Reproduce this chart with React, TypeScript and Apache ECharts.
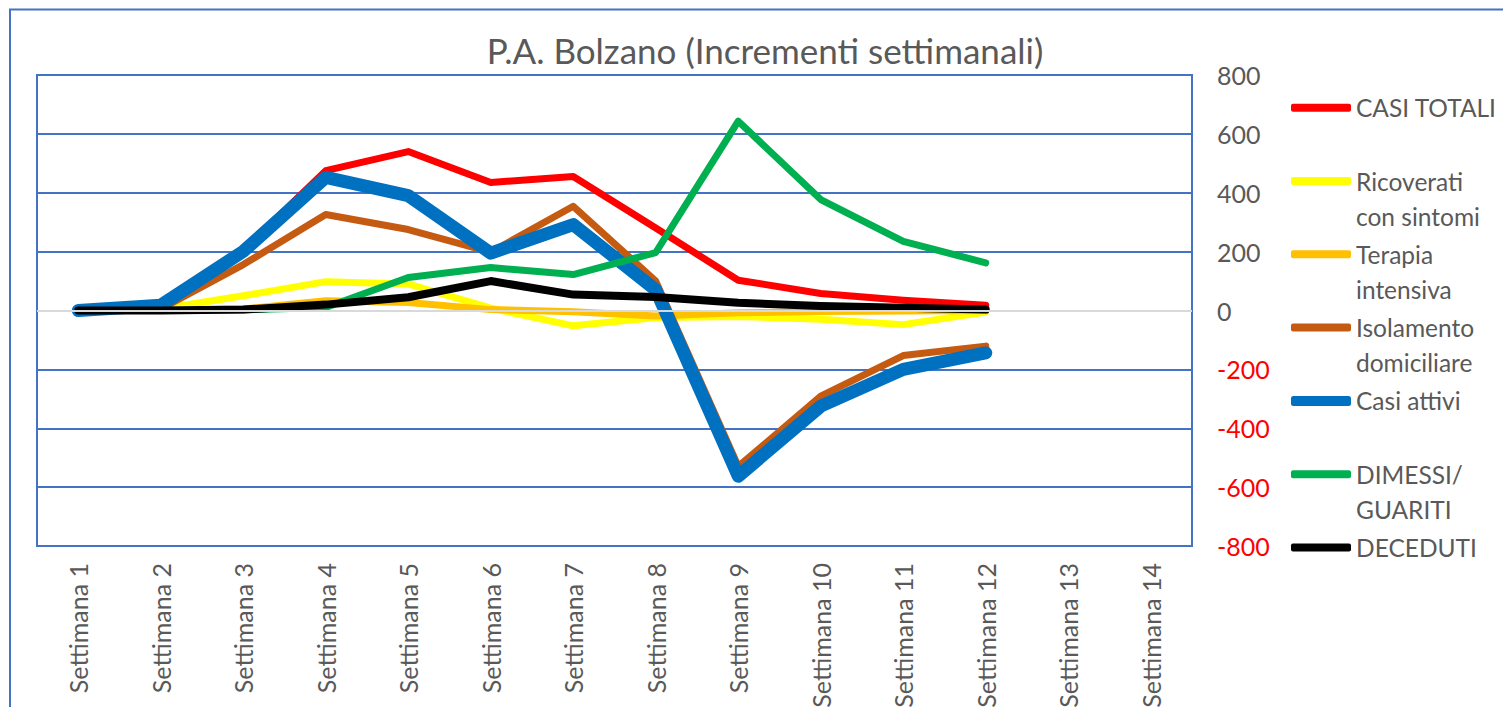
import React, { useEffect, useRef } from "react";
import * as echarts from "echarts";

const weeks = [
  "Settimana 1", "Settimana 2", "Settimana 3", "Settimana 4", "Settimana 5",
  "Settimana 6", "Settimana 7", "Settimana 8", "Settimana 9", "Settimana 10",
  "Settimana 11", "Settimana 12", "Settimana 13", "Settimana 14",
];
const casiTotali = [0, 15, 205, 475, 540, 435, 455, 280, 103, 58, 35, 18];
const ricoverati = [0, 5, 50, 98, 90, 8, -52, -24, -20, -30, -48, -5];
const terapiaIntensiva = [0, 0, 5, 33, 27, 3, -4, -19, -8, -3, -2, 0];
const isolamento = [0, 5, 156, 326, 275, 198, 354, 100, -530, -291, -153, -121];
const casiAttivi = [0, 18, 201, 452, 390, 195, 292, 70, -563, -325, -200, -144];
const dimessi = [0, 0, 2, 10, 112, 146, 122, 197, 643, 377, 235, 162];
const deceduti = [0, 0, 3, 20, 45, 100, 54, 46, 26, 15, 9, 3];

const seriesNames = [
  "CASI TOTALI",
  "Ricoverati con sintomi",
  "Terapia intensiva",
  "Isolamento domiciliare",
  "Casi attivi",
  "DIMESSI/ GUARITI",
  "DECEDUTI",
];
const legendLines = [
  ["CASI TOTALI"],
  ["Ricoverati", "con sintomi"],
  ["Terapia", "intensiva"],
  ["Isolamento", "domiciliare"],
  ["Casi attivi"],
  ["DIMESSI/", "GUARITI"],
  ["DECEDUTI"],
];
const seriesData = [casiTotali, ricoverati, terapiaIntensiva, isolamento, casiAttivi, dimessi, deceduti];
const colors = ["#FF0000", "#FFFF00", "#FFC000", "#C55A11", "#0070C0", "#00B050", "#000000"];
const widths = [7, 7, 7, 7, 13, 7, 8];
const yTicks = { min: -800, max: 800, interval: 200 };

const FONT = "Lato, 'Open Sans', sans-serif";
const TEXT = "#595959";
const BLUE = "#4472C4";

export default function App() {
  const ref = useRef<HTMLDivElement>(null);
  useEffect(() => {
    document.body.style.margin = "0";
    const chart = echarts.init(ref.current!, null, { renderer: "svg" });
    const LH = 35;
    const legends = seriesNames.map((name, i) => {
      const cy = 107.7 + 73.3 * i;
      const lines = legendLines[i];
      const twoLine = lines.length > 1;
      const ih = i === 4 ? 10 : 8;
      const label = twoLine ? "\n" + lines.join("\n") : lines[0];
      return {
        show: true,
        orient: "vertical",
        left: 1291,
        top: twoLine ? cy - 1.5 * LH : cy - LH / 2,
        padding: 0,
        itemWidth: 60,
        itemHeight: ih,
        icon: "roundRect",
        selectedMode: false,
        data: [name],
        formatter: () => label,
        itemStyle: { borderWidth: 0 },
        textStyle: {
          fontFamily: FONT,
          fontSize: 24.5,
          color: TEXT,
          lineHeight: LH,
        },
      };
    });

    const lineSeries = seriesNames.map((name, i) => ({
      name,
      type: "line",
      data: seriesData[i],
      symbol: "none",
      showSymbol: false,
      z: 3,
      itemStyle: { color: colors[i] },
      lineStyle: { color: colors[i], width: widths[i], cap: "round", join: "round" },
    }));

    chart.setOption({
      animation: false,
      backgroundColor: "#ffffff",
      title: {
        text: "P.A. Bolzano (Incrementi settimanali)",
        left: 765,
        textAlign: "center",
        top: 32,
        padding: 0,
        textStyle: { fontFamily: FONT, fontSize: 35, fontWeight: "normal", color: TEXT },
      },
      legend: legends,
      grid: {
        left: 37,
        top: 75,
        width: 1155,
        height: 471,
        show: true,
        outerBoundsMode: "none",
        containLabel: false,
        borderColor: BLUE,
        borderWidth: 2,
        backgroundColor: "transparent",
      },
      xAxis: {
        type: "category",
        data: weeks,
        boundaryGap: true,
        axisLine: { show: false },
        axisTick: { show: false },
        axisLabel: {
          rotate: 90,
          interval: 0,
          margin: 17,
          fontFamily: FONT,
          fontSize: 25,
          color: TEXT,
        },
      },
      yAxis: {
        type: "value",
        position: "right",
        min: yTicks.min,
        max: yTicks.max,
        interval: yTicks.interval,
        axisLine: { show: false },
        axisTick: { show: false },
        axisLabel: {
          margin: 25,
          fontFamily: FONT,
          fontSize: 25,
          color: (v: any) => (Number(v) < 0 ? "#FF0000" : TEXT),
        },
        splitLine: { show: true, lineStyle: { color: BLUE, width: 2 } },
      },
      graphic: [
        {
          type: "rect",
          shape: { x: 10, y: 9.5, width: 1700, height: 900 },
          style: { fill: "none", stroke: BLUE, lineWidth: 2 },
          silent: true,
        },
      ],
      series: [
        {
          name: "zero",
          type: "line",
          data: [],
          z: 1,
          silent: true,
          markLine: {
            silent: true,
            symbol: "none",
            label: { show: false },
            lineStyle: { color: "#D9D9D9", width: 2, type: "solid" },
            data: [{ yAxis: 0 }],
          },
        },
        ...lineSeries,
      ],
    });
    return () => chart.dispose();
  }, []);
  return <div ref={ref} style={{ width: 1503, height: 707 }} />;
}
